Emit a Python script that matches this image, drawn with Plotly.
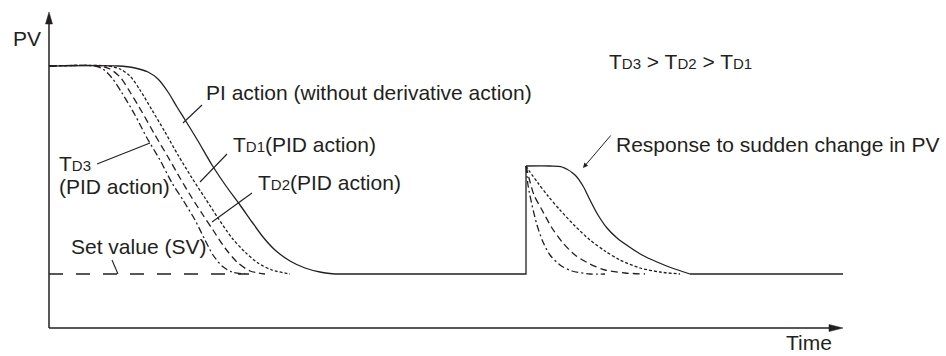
import plotly.graph_objects as go

# Process value (PV) responses after a set-value change and after a sudden PV change.
# Time and PV share one arbitrary unit.

SV = 54            # set value level
PV_START = 262     # initial PV plateau
STEP_T = 477       # time of the sudden change in PV
STEP_PV = 162      # PV right after the sudden change
T_END = 794        # end of the time axis
PV_AXIS_TOP = 316  # top of the PV axis

# PI action (no derivative action) - approach to SV
pi_t = [0, 69, 86, 99, 109, 119, 128, 138, 149, 163, 177, 191, 203, 214, 226, 241, 256, 271, 286]
pi_pv = [262, 262, 260, 256, 249, 236, 221, 205, 187, 163, 142, 123, 106, 91, 78, 67, 60, 56, 54]

# PID action with derivative times TD1 < TD2 < TD3
td1_t = [0, 59, 71, 81, 91, 103, 116, 129, 143, 156, 169, 183, 196, 209, 223, 241]
td1_pv = [262, 262, 259, 252, 238, 218, 196, 173, 150, 130, 110, 90, 76, 65, 58, 54]

td2_t = [0, 51, 61, 71, 81, 93, 106, 119, 131, 143, 154, 164, 176, 188, 201, 216]
td2_pv = [262, 262, 259, 251, 236, 216, 193, 171, 150, 130, 113, 98, 80, 66, 57, 54]

td3_t = [0, 46, 54, 63, 73, 86, 98, 111, 123, 134, 146, 156, 164, 173, 183, 196]
td3_pv = [262, 262, 259, 250, 235, 213, 190, 168, 145, 128, 108, 88, 73, 62, 56, 54]

# Recovery after the sudden change in PV
pi_r_t = [477, 501, 513, 526, 534, 541, 549, 558, 568, 579, 593, 608, 623, 641]
pi_r_pv = [162, 162, 161, 153, 142, 128, 113, 100, 90, 82, 73, 66, 60, 54]

td1_r_t = [477, 481, 489, 499, 511, 526, 541, 556, 571, 591, 611, 631]
td1_r_pv = [162, 156, 145, 132, 118, 102, 88, 77, 68, 60, 56, 54]

td2_r_t = [477, 480, 485, 493, 503, 514, 526, 541, 556, 576, 596]
td2_r_pv = [162, 150, 133, 118, 100, 85, 73, 64, 58, 55, 54]

td3_r_t = [477, 479, 483, 488, 494, 501, 511, 523, 541, 556]
td3_r_pv = [162, 143, 123, 103, 86, 73, 63, 57, 54, 54]

INK = "#231f20"
FONT = "Liberation Sans, Arial, sans-serif"
LW = 1.3

fig = go.Figure()


def curve(t, pv, dash, shape="spline"):
    fig.add_trace(go.Scatter(
        x=t, y=pv, mode="lines", hoverinfo="skip", showlegend=False,
        line=dict(color=INK, width=LW, dash=dash, shape=shape, smoothing=0.8),
    ))


# set value reference line
curve([0, 200], [SV, SV], "14px,13px", "linear")

# derivative-action curves
curve(td3_t, td3_pv, "7px,3px,2px,3px")
curve(td2_t, td2_pv, "7px,4px")
curve(td1_t, td1_pv, "3px,2px")
curve(td3_r_t, td3_r_pv, "7px,3px,2px,3px")
curve(td2_r_t, td2_r_pv, "7px,4px")
curve(td1_r_t, td1_r_pv, "3px,2px")

# PI action: approach, settled line, sudden change, recovery, settled line
curve(pi_t, pi_pv, "solid")
curve([pi_t[-1], STEP_T, STEP_T], [SV, SV, STEP_PV], "solid", "linear")
curve(pi_r_t, pi_r_pv, "solid")
curve([pi_r_t[-1], T_END], [SV, SV], "solid", "linear")

shapes = []
# axes
shapes.append(dict(type="line", x0=0, y0=0, x1=0, y1=PV_AXIS_TOP - 8,
                   line=dict(color=INK, width=1.5)))
shapes.append(dict(type="line", x0=0, y0=0, x1=T_END - 8, y1=0,
                   line=dict(color=INK, width=1.5)))
# arrowheads at the axis ends
shapes.append(dict(type="path",
                   path=f"M -3.5 {PV_AXIS_TOP - 12} L 3.5 {PV_AXIS_TOP - 12} L 0 {PV_AXIS_TOP} Z",
                   fillcolor=INK, line=dict(color=INK, width=0.5)))
shapes.append(dict(type="path",
                   path=f"M {T_END - 14} -3.5 L {T_END - 14} 3.5 L {T_END} 0 Z",
                   fillcolor=INK, line=dict(color=INK, width=0.5)))

# leader lines from labels to curves
leaders = [
    ((153, 223), (134, 205)),   # PI action
    ((178, 174), (151, 146)),   # TD1
    ((203, 135), (163, 106)),   # TD2
    ((48, 164), (101, 185)),    # TD3
    ((63, 68), (69, 54)),       # set value
]
for (xa, ya), (xb, yb) in leaders:
    shapes.append(dict(type="line", x0=xa, y0=ya, x1=xb, y1=yb,
                       line=dict(color=INK, width=1.1)))

SUB = "<span style='font-size:15px'>{}</span>"
FS = 21

labels = [
    (-38, 290, "PV", "middle"),
    (735, -27.5, "Time", "bottom"),
    (558, 267, "T" + SUB.format("D3") + " > T" + SUB.format("D2") + " > T" + SUB.format("D1"), "middle"),
    (155, 236, "PI action (without derivative action)", "middle"),
    (182, 184, "T" + SUB.format("D1") + "(PID action)", "middle"),
    (207, 146, "T" + SUB.format("D2") + "(PID action)", "middle"),
    (8, 165, "T" + SUB.format("D3"), "middle"),
    (8, 142, "(PID action)", "middle"),
    (20, 82, "Set value (SV)", "middle"),
    (565, 184, "Response to sudden change in PV", "middle"),
]
annotations = []
for x, y, text, yanchor in labels:
    annotations.append(dict(x=x, y=y, text=text, showarrow=False,
                            xanchor="left", yanchor=yanchor,
                            font=dict(family=FONT, size=FS, color=INK)))

# arrow pointing at the recovery curve
annotations.append(dict(x=534, y=160, ax=563, ay=194, axref="x", ayref="y",
                        text="", showarrow=True, arrowhead=2, arrowsize=1,
                        arrowwidth=1, arrowcolor=INK))

fig.update_layout(
    width=946, height=356,
    margin=dict(l=0, r=0, t=0, b=0),
    paper_bgcolor="white", plot_bgcolor="white",
    xaxis=dict(range=[-49, 897], visible=False, fixedrange=True),
    yaxis=dict(range=[-28, 328], visible=False, fixedrange=True),
    shapes=shapes, annotations=annotations,
)

fig.write_html("out.html")
